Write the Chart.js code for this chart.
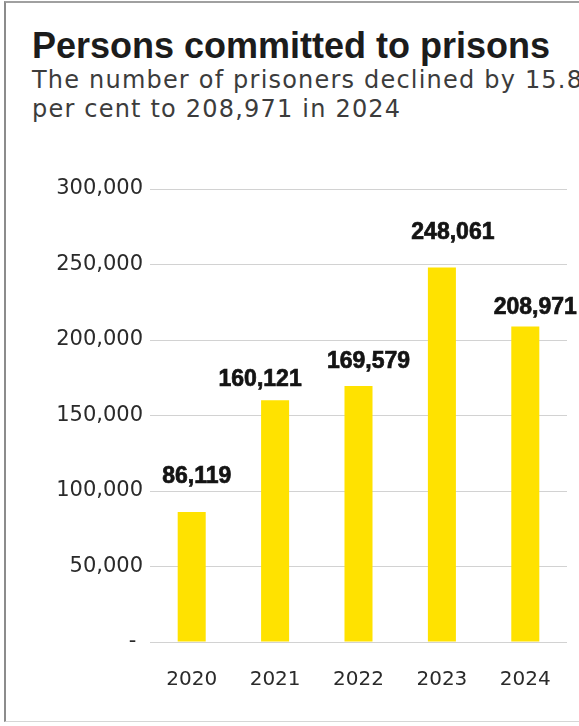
<!DOCTYPE html>
<html>
<head>
<meta charset="utf-8">
<script src="https://cdn.jsdelivr.net/npm/chart.js@4.4.1/dist/chart.umd.min.js"></script>
<style>
  html, body { margin: 0; padding: 0; background: #fff; }
  body { width: 579px; height: 726px; position: relative; overflow: hidden; }
  .frame {
    position: absolute; left: 4px; top: 1px; width: 600px; height: 718px;
    border-left: 2px solid #8c8c8c; border-top: 2px solid #a0a0a0; border-bottom: 1px solid #d6d6d6;
  }
  .title {
    position: absolute; left: 32px; top: 28px; white-space: nowrap;
    font: bold 36px/36px "Liberation Sans", Arial, sans-serif; color: #1c1c1c;
  }
  .subtitle {
    position: absolute; left: 32px; top: 66px; width: 580px;
    font: 24px/29px "DejaVu Sans", sans-serif; letter-spacing: 1.2px; color: #3c3c3c;
  }
  .chart-wrap { position: absolute; left: 0; top: 0; width: 579px; height: 726px; }
</style>
</head>
<body>
<div class="frame"></div>
<div class="title">Persons committed to prisons</div>
<div class="subtitle">The number of prisoners declined by 15.8 per cent to 208,971 in 2024</div>
<div class="chart-wrap"><canvas id="prisonChart"></canvas></div>

<script>
// Persons committed to prisons, by year
const years = ['2020', '2021', '2022', '2023', '2024'];
const persons = [86119, 160121, 169579, 248061, 208971];
const yTicks = [0, 50000, 100000, 150000, 200000, 250000, 300000];

// value labels sit a little off the bar tops (dx, dy from bar top)
const labelDx = [5, -15, 10, 11, 10];
const labelDy = [-35, -21, -24, -35, -19];

const fmt = v => v.toLocaleString('en-US');

const barLabels = {
  id: 'barLabels',
  afterDatasetsDraw(chart) {
    const ctx = chart.ctx;
    const meta = chart.getDatasetMeta(0);
    ctx.save();
    ctx.font = "bold 23px 'Liberation Sans', Arial, sans-serif";
    ctx.fillStyle = '#141414';
    ctx.strokeStyle = '#141414';
    ctx.lineWidth = 0.7;
    ctx.textAlign = 'center';
    ctx.textBaseline = 'middle';
    meta.data.forEach((bar, i) => {
      const x = bar.x + labelDx[i], y = bar.y + labelDy[i];
      ctx.fillText(fmt(persons[i]), x, y);
      ctx.strokeText(fmt(persons[i]), x, y);
    });
    ctx.restore();
  }
};

new Chart(document.getElementById('prisonChart'), {
  type: 'bar',
  data: {
    labels: years,
    datasets: [{
      data: persons,
      backgroundColor: '#ffe200',
      borderWidth: 0,
      barPercentage: 0.336,
      categoryPercentage: 1
    }]
  },
  options: {
    responsive: true,
    maintainAspectRatio: false,
    animation: false,
    layout: { padding: { top: 189, right: 12, bottom: 8, left: 0 } },
    plugins: {
      legend: { display: false },
      tooltip: { enabled: false }
    },
    scales: {
      x: {
        grid: { display: false, drawTicks: false },
        border: { display: false },
        ticks: {
          color: '#2a2a2a',
          padding: 26,
          font: { family: "'DejaVu Sans', sans-serif", size: 20 }
        }
      },
      y: {
        min: 0,
        max: 300000,
        afterFit(scale) { scale.width = 150; },
        afterBuildTicks(scale) { scale.ticks = yTicks.map(v => ({ value: v })); },
        grid: { color: '#d2d2d2', lineWidth: 1, drawTicks: false },
        border: { display: false },
        ticks: {
          color: '#2a2a2a',
          padding: 7,
          font: { family: "'DejaVu Sans', sans-serif", size: 21 },
          callback: v => v === 0 ? '- ' : fmt(v)
        }
      }
    }
  },
  plugins: [barLabels]
});
</script>
</body>
</html>
